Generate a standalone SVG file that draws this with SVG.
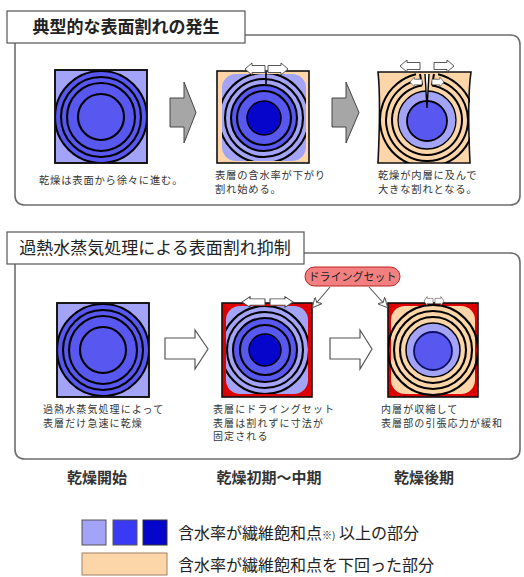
<svg xmlns="http://www.w3.org/2000/svg" xmlns:xlink="http://www.w3.org/1999/xlink" width="524" height="577" viewBox="0 0 524 577">
  <style>
    .jp { font-family: "Noto Sans CJK JP", "Noto Sans", sans-serif; fill: #222; }
    .title { font-size: 17px; }
    .note { font-size: 10.3px; letter-spacing: 0.8px; fill: #333; }
    .note2 { font-size: 10px; letter-spacing: 1.1px; fill: #333; }
    .stage { font-size: 15px; font-weight: bold; fill: #333; }
    .legend { font-size: 16px; fill: #222; }
    .frame { fill: none; stroke: #6e6e6e; stroke-width: 1.6; }
    .tbox { fill: #fff; stroke: #555; stroke-width: 1.2; }
    .ring { stroke: #000; stroke-width: 2.1; }
    .open { fill: none; stroke: #000; stroke-width: 2; }
    .lt { fill: #a3a3f7; }
    .md { fill: #5858f0; }
    .dk { fill: #0505cc; }
    .pe { fill: #fcd6a8; }
    .rd { fill: #dd0000; }
    .edge { stroke: #111; stroke-width: 1.6; }
    .garrow { fill: #a6a6a6; stroke: #444; stroke-width: 1; }
    .warrow { fill: #fff; stroke: #555; stroke-width: 1.2; }
    .sarrow { fill: #fff; stroke: #444; stroke-width: 0.9; }
    .lead { stroke: #555; stroke-width: 1.1; fill: none; }
  </style>
  <defs>
    <!-- small outward-pointing block arrow, tip at the origin's right -->
    <path id="arrR" d="M0,-3.5 H13 V-6 L20,0 L13,6 V3.5 H0 Z"/>
    <marker id="lead-head" viewBox="0 0 10 10" refX="9" refY="5" markerWidth="9" markerHeight="9" orient="auto">
      <path d="M0,0 L10,5 L0,10 L3,5 Z" fill="#fff" stroke="#555" stroke-width="1"/>
    </marker>
    <clipPath id="c1"><rect x="55" y="70" width="92" height="93"/></clipPath>
    <clipPath id="c2"><rect x="222" y="74" width="84" height="87" rx="14"/></clipPath>
    <clipPath id="c3"><rect x="378" y="70" width="92" height="93"/></clipPath>
    <clipPath id="c4"><rect x="57" y="303" width="92" height="94"/></clipPath>
    <clipPath id="c5"><rect x="226" y="306" width="82" height="88" rx="14"/></clipPath>
    <clipPath id="c6"><rect x="388" y="297" width="90" height="100"/></clipPath>
  </defs>

  <!-- upper section: typical surface checking -->
  <g id="section-typical">
    <path class="frame" d="M15,43 V195 Q15,205 25,205 H510 Q520,205 520,195 V45 Q520,35 510,35 H245"/>
    <rect class="tbox" x="7" y="11" width="238" height="32"/>
    <text class="jp title" x="126" y="33" text-anchor="middle" font-weight="bold">典型的な表面割れの発生</text>
  </g>

  <!-- lower section: suppression by superheated steam -->
  <g id="section-steam">
    <path class="frame" d="M15,264 V449 Q15,459 25,459 H510 Q520,459 520,449 V263 Q520,253 510,253 H304"/>
    <rect class="tbox" x="7" y="232" width="297" height="32"/>
    <text class="jp title" x="155" y="254" text-anchor="middle">過熱水蒸気処理による表面割れ抑制</text>
  </g>

  <!-- top row, stage 1 -->
  <g id="node-top-start">
    <rect class="lt edge" x="55" y="70" width="92" height="93"/>
    <g clip-path="url(#c1)">
      <circle class="md ring" cx="101" cy="117" r="46"/>
      <circle class="md ring" cx="101" cy="117" r="40"/>
      <circle class="md ring" cx="101" cy="117" r="34"/>
      <circle class="md ring" cx="101" cy="117" r="23"/>
    </g>
    <rect x="55" y="70" width="92" height="93" fill="none" class="edge"/>
    <text class="jp note" x="39" y="184">乾燥は表面から徐々に進む。</text>
  </g>

  <!-- top row, stage 2 -->
  <g id="node-top-middle">
    <rect class="pe edge" x="217" y="71" width="92" height="92"/>
    <rect class="lt" x="222" y="74" width="84" height="87" rx="14"/>
    <g clip-path="url(#c2)">
      <circle class="lt ring" cx="264" cy="118" r="45"/>
      <circle class="lt ring" cx="264" cy="118" r="39"/>
      <circle class="md ring" cx="264" cy="118" r="33"/>
      <circle class="md ring" cx="264" cy="118" r="27"/>
      <circle class="dk" cx="264" cy="118" r="17" stroke="#000" stroke-width="1.5"/>
    </g>
    <path d="M266,72 L266,84" stroke="#000" stroke-width="1.6"/>
    <use href="#arrR" class="sarrow" transform="translate(265,69) scale(-1,1)"/>
    <use href="#arrR" class="sarrow" transform="translate(268,69)"/>
    <text class="jp note" x="215" y="178.5">表層の含水率が下がり</text>
    <text class="jp note" x="215" y="192.5">割れ始める。</text>
  </g>

  <!-- top row, stage 3 -->
  <g id="node-top-end">
    <path class="pe edge" d="M378,72 H471 Q467,100 470,163 H378 Q381,100 378,72 Z"/>
    <circle class="lt" cx="427" cy="120" r="29" stroke="#000" stroke-width="1.3"/>
    <circle class="md" cx="427" cy="121" r="20" stroke="#000" stroke-width="1.8"/>
    <g clip-path="url(#c3)">
      <!-- rings opened at the top by the check -->
      <path class="open" d="M422,85.4 A35,35 0 1 0 432,85.4"/>
      <path class="open" d="M419,79.8 A41,41 0 1 0 435,79.8"/>
      <path class="open" d="M416,74.3 A47,47 0 1 0 438,74.3"/>
      <path class="open" d="M422,85.4 L420,74 M432,85.4 L434,74"/>
    </g>
    <path d="M425,74 L427,108 L429,74" fill="#fff" stroke="#000" stroke-width="1.4"/>
    <use href="#arrR" class="sarrow" transform="translate(420,66) scale(-1,1)"/>
    <use href="#arrR" class="sarrow" transform="translate(434,66)"/>
    <use href="#arrR" class="sarrow" transform="translate(422,82) scale(-0.6,0.8)"/>
    <use href="#arrR" class="sarrow" transform="translate(432,82) scale(0.6,0.8)"/>
    <text class="jp note" x="378" y="178.5">乾燥が内層に及んで</text>
    <text class="jp note" x="378" y="192.5">大きな割れとなる。</text>
  </g>

  <!-- bottom row, stage 1 -->
  <g id="node-steam-start">
    <rect class="lt edge" x="57" y="303" width="92" height="94"/>
    <g clip-path="url(#c4)">
      <circle class="md ring" cx="103" cy="350" r="46"/>
      <circle class="md ring" cx="103" cy="350" r="40"/>
      <circle class="md ring" cx="103" cy="350" r="34"/>
      <circle class="md ring" cx="103" cy="350" r="23"/>
    </g>
    <rect x="57" y="303" width="92" height="94" fill="none" class="edge"/>
    <text class="jp note2" x="43" y="413">過熱水蒸気処理によって</text>
    <text class="jp note2" x="43" y="426.5">表層だけ急速に乾燥</text>
  </g>

  <!-- bottom row, stage 2 -->
  <g id="node-steam-middle">
    <rect class="rd edge" x="222" y="303" width="90" height="94"/>
    <rect class="lt" x="226" y="306" width="82" height="88" rx="14"/>
    <g clip-path="url(#c5)">
      <circle class="lt ring" cx="265" cy="350" r="44"/>
      <circle class="lt ring" cx="265" cy="350" r="38"/>
      <circle class="md ring" cx="265" cy="350" r="32"/>
      <circle class="md ring" cx="265" cy="350" r="25"/>
      <circle class="dk" cx="265" cy="350" r="16" stroke="#000" stroke-width="1.5"/>
    </g>
    <use href="#arrR" class="sarrow" transform="translate(265,302) scale(-1.15,0.9)"/>
    <use href="#arrR" class="sarrow" transform="translate(270,302) scale(1.15,0.9)"/>
    <text class="jp note2" x="213" y="413">表層にドライングセット</text>
    <text class="jp note2" x="213" y="426.5">表層は割れずに寸法が</text>
    <text class="jp note2" x="213" y="440">固定される</text>
  </g>

  <!-- bottom row, stage 3 -->
  <g id="node-steam-end">
    <rect class="rd edge" x="388" y="303" width="90" height="94"/>
    <rect class="pe" x="391" y="306" width="84" height="88" rx="14"/>
    <g clip-path="url(#c6)">
      <circle cx="433" cy="350" r="45" fill="none" class="ring"/>
      <circle cx="433" cy="350" r="39" fill="none" class="ring"/>
      <circle cx="433" cy="350" r="33" fill="none" class="ring"/>
    </g>
    <circle class="lt" cx="433" cy="350" r="27" stroke="#000" stroke-width="1.5"/>
    <circle class="md" cx="433" cy="351" r="19" stroke="#101060" stroke-width="1.8"/>
    <use href="#arrR" class="sarrow" transform="translate(433,301) scale(-0.45,0.75)"/>
    <use href="#arrR" class="sarrow" transform="translate(435,301) scale(0.45,0.75)"/>
    <text class="jp note2" x="381" y="413">内層が収縮して</text>
    <text class="jp note2" x="381" y="426.5">表層部の引張応力が緩和</text>
  </g>

  <!-- callout -->
  <g id="node-drying-set">
    <rect x="305" y="267" width="95" height="19" rx="9.5" fill="#f28080" stroke="#b22" stroke-width="1"/>
    <text class="jp" x="352.5" y="281" font-size="11" text-anchor="middle" fill="#3a1010">ドライングセット</text>
  </g>

  <!-- connectors -->
  <g id="connectors">
    <path class="garrow" d="M170,98 H184 V82 L196,112.5 L184,143 V127 H170 Z"/>
    <path class="garrow" d="M332,98 H346 V82 L359,112.5 L346,143 V127 H332 Z"/>
    <path class="warrow" d="M165,338 H195 V330 L208,349 L195,369 V359 H165 Z"/>
    <path class="warrow" d="M330,338 H360 V330 L372,349 L360,369 V359 H330 Z"/>
    <path class="lead" d="M330,287 L313,307" marker-end="url(#lead-head)"/>
    <path class="lead" d="M369,287 L387,307" marker-end="url(#lead-head)"/>
  </g>

  <!-- stage captions -->
  <g id="stage-labels">
    <text class="jp stage" x="97" y="483" text-anchor="middle">乾燥開始</text>
    <text class="jp stage" x="269" y="483" text-anchor="middle">乾燥初期～中期</text>
    <text class="jp stage" x="424" y="483" text-anchor="middle">乾燥後期</text>
  </g>

  <!-- legend -->
  <g id="legend">
    <rect class="lt" x="82" y="520" width="24" height="25" stroke="#555" stroke-width="1"/>
    <rect x="113" y="520" width="24" height="25" fill="#3a3af5" stroke="#555" stroke-width="1"/>
    <rect class="dk" x="143" y="520" width="24" height="25" stroke="#333" stroke-width="1"/>
    <rect class="pe" x="82" y="553" width="85" height="22" stroke="#a08060" stroke-width="1"/>
    <text class="jp legend" x="178" y="539">含水率が繊維飽和点<tspan font-size="10">※)</tspan> 以上の部分</text>
    <text class="jp legend" x="178" y="571">含水率が繊維飽和点を下回った部分</text>
  </g>
</svg>
